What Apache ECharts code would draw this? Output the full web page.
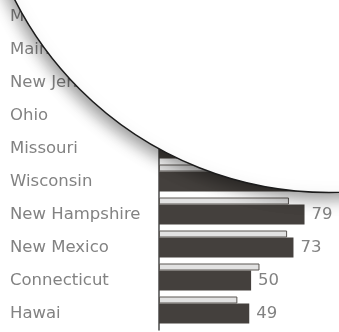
<!DOCTYPE html>
<html>
<head>
<meta charset="utf-8">
<script src="https://cdn.jsdelivr.net/npm/echarts@6/dist/echarts.min.js"></script>
<style>
  html, body { margin: 0; padding: 0; background: #ffffff; }
  #chart { width: 339px; height: 332px; }
</style>
</head>
<body>
<div id="chart"></div>
<script>
// States, listed top to bottom
const states = ['Massachusetts', 'Maine', 'New Jersey', 'Ohio', 'Missouri', 'Wisconsin', 'New Hampshire', 'New Mexico', 'Connecticut', 'Hawai'];
// Current value (dark bar, labelled)
const currentValues = [90, 88, 86, 84, 82, 80, 79, 73, 50, 49];
// Earlier value (thin bar above each dark bar)
const previousValues = [80, 78, 77, 76, 74, 73, 70, 69, 54, 42];

const DARK = '#44403d';
const TEXT = '#828282';
const DARK_H = 20;
const THIN_H = 7;

const chart = echarts.init(document.getElementById('chart'), null, { renderer: 'canvas' });

chart.setOption({
  animation: false,
  backgroundColor: '#ffffff',
  grid: { left: 159, right: 5, top: -3, bottom: 2, containLabel: false },
  xAxis: {
    type: 'value', min: 0, max: 95, show: false
  },
  yAxis: {
    type: 'category',
    inverse: true,
    data: states,
    axisLine: { show: true, lineStyle: { color: '#4a4a4a', width: 1.5 } },
    axisTick: { show: false },
    splitLine: { show: false },
    axisLabel: {
      align: 'left',
      margin: 149,
      color: TEXT,
      fontSize: 16.5,
      fontFamily: 'DejaVu Sans'
    }
  },
  series: [
    {
      type: 'bar',
      data: currentValues,
      barWidth: DARK_H,
      itemStyle: { color: DARK },
      label: {
        show: true,
        position: 'right',
        distance: 7,
        color: TEXT,
        fontSize: 16.5,
        fontFamily: 'DejaVu Sans'
      },
      z: 2
    },
    {
      type: 'custom',
      data: previousValues.map((v, i) => [v, i]),
      encode: { x: 0, y: 1 },
      renderItem: function (params, api) {
        const base = api.coord([0, api.value(1)]);
        const tip = api.coord([api.value(0), api.value(1)]);
        return {
          type: 'rect',
          shape: {
            x: base[0] + 0.5,
            y: base[1] - DARK_H / 2 - THIN_H + 0.5,
            width: tip[0] - base[0],
            height: THIN_H - 1
          },
          style: { fill: '#e2e2e2', stroke: '#5a5652', lineWidth: 1 }
        };
      },
      z: 3
    }
  ],
  graphic: [
    {
      type: 'circle',
      z: 100,
      shape: { cx: 329, cy: -160, r: 352.5 },
      style: {
        fill: '#ffffff',
        stroke: '#1c1c1c',
        lineWidth: 1.5,
        shadowBlur: 16,
        shadowOffsetX: -3,
        shadowOffsetY: 6,
        shadowColor: 'rgba(0,0,0,0.4)'
      }
    }
  ]
});
</script>
</body>
</html>
